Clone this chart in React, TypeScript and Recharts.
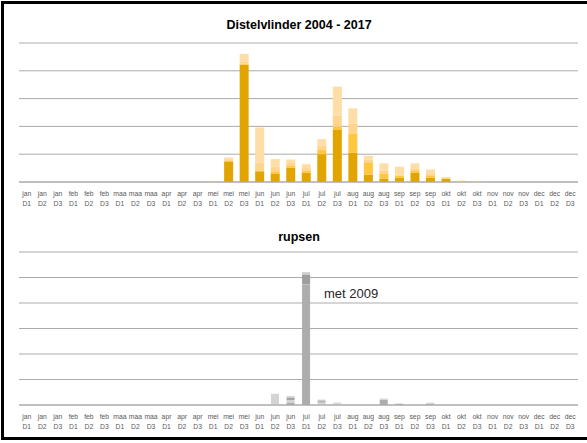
import React from 'react';
import { BarChart, Bar, XAxis, YAxis, CartesianGrid } from 'recharts';

const months = ['jan','jan','jan','feb','feb','feb','maa','maa','maa','apr','apr','apr','mei','mei','mei','jun','jun','jun','jul','jul','jul','aug','aug','aug','sep','sep','sep','okt','okt','okt','nov','nov','nov','dec','dec','dec'];
const decades = ['D1','D2','D3','D1','D2','D3','D1','D2','D3','D1','D2','D3','D1','D2','D3','D1','D2','D3','D1','D2','D3','D1','D2','D3','D1','D2','D3','D1','D2','D3','D1','D2','D3','D1','D2','D3'];

// Distelvlinder (vlinders) stacked layers
const vDark = [0,0,0,0,0,0,0,0,0,0,0,0, 0,0.72,4.22,0.39,0.29,0.51,0.33,1.0,1.87,1.05,0.27,0.12,0.16,0.34,0.16,0.11,0,0, 0,0,0,0,0,0];
const vMid = [0,0,0,0,0,0,0,0,0,0,0,0, 0,0.05,0.04,0,0.07,0.07,0.07,0.17,0.12,0.70,0.44,0.18,0.06,0.08,0.08,0.02,0,0, 0,0,0,0,0,0];
const vLight = [0,0,0,0,0,0,0,0,0,0,0,0, 0.03,0.05,0.06,0.30,0.20,0.10,0.10,0.15,0.39,0.36,0.10,0.10,0.05,0.05,0.05,0.04,0.05,0, 0,0,0,0,0,0];
const vPale = [0,0,0,0,0,0,0,0,0,0,0,0, 0,0.06,0.29,1.27,0.27,0.13,0.14,0.22,1.05,0.54,0.13,0.27,0.28,0.20,0.16,0,0,0.03, 0,0,0,0,0,0];

// rupsen stacked layers
const rGray = [0,0,0,0,0,0,0,0,0,0,0,0, 0,0,0,0,0,0.10,4.73,0,0,0,0,0.21,0.05,0,0.05,0,0,0, 0,0,0,0,0,0];
const rLight = [0,0,0,0,0,0,0,0,0,0,0,0, 0,0,0,0,0.44,0.10,0,0.10,0.09,0,0,0,0,0,0,0,0,0, 0,0,0,0,0,0];
const rDark = [0,0,0,0,0,0,0,0,0,0,0,0, 0,0,0,0,0,0.08,0.39,0.05,0,0,0,0,0,0,0,0,0,0, 0,0,0,0,0,0];
const rCap = [0,0,0,0,0,0,0,0,0,0,0,0, 0,0,0,0,0,0.07,0.09,0.06,0,0,0,0.04,0,0,0.04,0,0,0, 0,0,0,0,0,0];

const vTicks = [0,1,2,3,4,5];
const rTicks = [0,1,2,3,4,5,6];

const topData = months.map((m, i) => ({ cat: m + ' ' + decades[i], a: vDark[i], b: vMid[i], c: vLight[i], d: vPale[i] }));
const bottomData = months.map((m, i) => ({ cat: m + ' ' + decades[i], a: rGray[i], b: rLight[i], c: rDark[i], d: rCap[i] }));

const FONT = '"Liberation Sans", Arial, sans-serif';

const TwoLineTick = (props: any) => {
  const { x, y, payload } = props;
  const [m, d] = String(payload.value).split(' ');
  return (
    <g transform={`translate(${x},${y})`}>
      <text x={0} y={14} textAnchor="middle" fontSize={6.8} fill="#595959" fontFamily={FONT}>{m}</text>
      <text x={0} y={23.5} textAnchor="middle" fontSize={6.8} fill="#595959" fontFamily={FONT}>{d}</text>
    </g>
  );
};

const GRID = '#ababab';

export default function App() {
  return (
    <div style={{ position: 'absolute', left: 0, top: 0, width: 587, height: 443, overflow: 'hidden', background: '#fff', fontFamily: FONT }}>
      <div style={{ position: 'absolute', left: 1, top: 1, width: 640, height: 439, boxSizing: 'border-box', borderTop: '3px solid #000', borderLeft: '3px solid #000', borderBottom: '3px solid #000' }} />

      <div style={{ position: 'absolute', left: 0, top: 17, width: 598, textAlign: 'center', fontWeight: 'bold', fontSize: 12.5, lineHeight: '16px', color: '#000' }}>Distelvlinder 2004 - 2017</div>
      <div style={{ position: 'absolute', left: 0, top: 0 }}>
        <BarChart width={587} height={215} data={topData} margin={{ top: 43, right: 9, left: 19, bottom: 0 }} barCategoryGap="21%">
          <CartesianGrid vertical={false} stroke={GRID} strokeWidth={1} />
          <YAxis hide domain={[0, 5]} ticks={vTicks} />
          <XAxis dataKey="cat" interval={0} height={33} tickSize={0} tickMargin={0} tickLine={false} axisLine={{ stroke: GRID }} tick={<TwoLineTick />} />
          <Bar dataKey="a" stackId="s" fill="#E2A500" isAnimationActive={false} />
          <Bar dataKey="b" stackId="s" fill="#FFC640" isAnimationActive={false} />
          <Bar dataKey="c" stackId="s" fill="#FFD48C" isAnimationActive={false} />
          <Bar dataKey="d" stackId="s" fill="#FFDDA6" isAnimationActive={false} />
        </BarChart>
      </div>

      <div style={{ position: 'absolute', left: 0, top: 229, width: 598, textAlign: 'center', fontWeight: 'bold', fontSize: 12.5, lineHeight: '16px', color: '#000' }}>rupsen</div>
      <div style={{ position: 'absolute', left: 0, top: 215 }}>
        <BarChart width={587} height={220} data={bottomData} margin={{ top: 37, right: 9, left: 19, bottom: 0 }} barCategoryGap="23%">
          <CartesianGrid vertical={false} stroke={GRID} strokeWidth={1} />
          <YAxis hide domain={[0, 6]} ticks={rTicks} />
          <XAxis dataKey="cat" interval={0} height={30} tickSize={0} tickMargin={0} tickLine={false} axisLine={{ stroke: GRID }} tick={<TwoLineTick />} />
          <Bar dataKey="a" stackId="s" fill="#ADADAD" isAnimationActive={false} />
          <Bar dataKey="b" stackId="s" fill="#D4D4D4" isAnimationActive={false} />
          <Bar dataKey="c" stackId="s" fill="#9E9E9E" isAnimationActive={false} />
          <Bar dataKey="d" stackId="s" fill="#CFCFCF" isAnimationActive={false} />
        </BarChart>
      </div>
      <div style={{ position: 'absolute', left: 324, top: 286, fontSize: 13, lineHeight: '16px', color: '#262626' }}>met 2009</div>
    </div>
  );
}
